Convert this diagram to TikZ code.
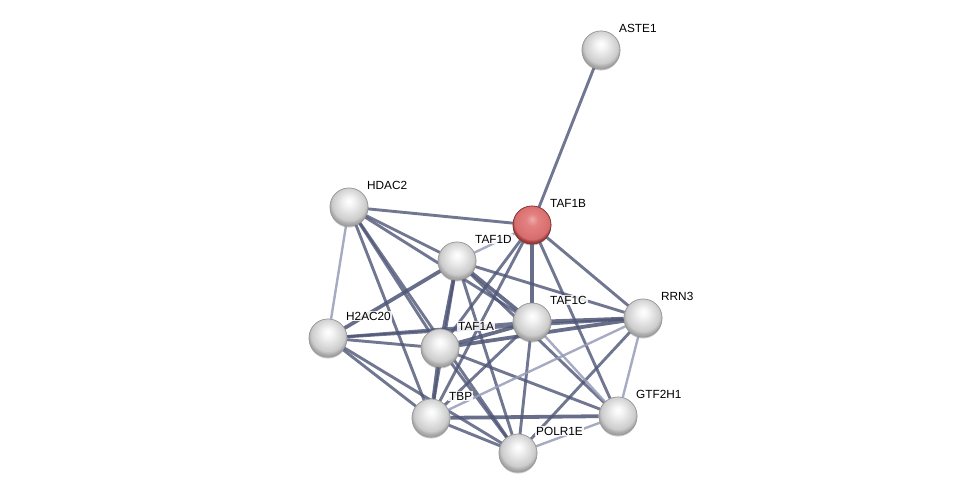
\documentclass[tikz,border=0pt]{standalone}
\usepackage{fontspec}
\setmainfont{Liberation Sans}
\usepackage{tikz}
\usetikzlibrary{positioning, shapes, arrows.meta, calc, shadows}

\definecolor{edgedark}{RGB}{78,85,118}
\definecolor{edgelight}{RGB}{150,156,184}
\definecolor{seedtop}{RGB}{240,170,170}
\definecolor{seedmid}{RGB}{222,118,118}
\definecolor{seedrim}{RGB}{160,60,60}
\pgfdeclareradialshading{greysphere}{\pgfpoint{0bp}{8bp}}{%
  color(0bp)=(white); color(6bp)=(white!96!black); color(14bp)=(white!88!black);
  color(22bp)=(white!80!black); color(26bp)=(white!65!black); color(50bp)=(white!65!black)}
\pgfdeclareradialshading{redsphere}{\pgfpoint{0bp}{8bp}}{%
  color(0bp)=(seedtop); color(8bp)=(seedmid!80!seedtop); color(16bp)=(seedmid);
  color(23bp)=(seedmid!85!seedrim); color(26bp)=(seedrim); color(50bp)=(seedrim)}

\begin{document}
\begin{tikzpicture}[x=1pt, y=-1pt,
    protein/.style={circle, draw=gray!80, line width=0.6pt, minimum size=38pt, inner sep=0pt, shading=greysphere,
                    drop shadow={opacity=0.25, shadow xshift=0pt, shadow yshift=-1.5pt}},
    seed/.style={protein, shading=redsphere, draw=seedrim!80!black},
    lbl/.style={anchor=west, inner sep=1pt, fill=white, fill opacity=0.85, text opacity=1,
                font=\fontsize{11.8}{13}\selectfont},
    thick link/.style={draw=edgedark, line width=3.8pt, opacity=0.85},
    mid link/.style={draw=edgedark, line width=2.9pt, opacity=0.8},
    weak link/.style={draw=edgelight, line width=2.4pt, opacity=0.85}]
                  \useasboundingbox (0,0) rectangle (975,498);

                  % Nodes
                  \node[protein] (ASTE1) at (601,50) {};
                  \node[seed] (TAF1B) at (532,225) {};
                  \node[protein] (HDAC2) at (349,207) {};
                  \node[protein] (TAF1D) at (457,261) {};
                  \node[protein] (TAF1C) at (532,322) {};
                  \node[protein] (RRN3) at (643,318) {};
                  \node[protein] (H2AC20) at (328,338) {};
                  \node[protein] (TAF1A) at (440,348) {};
                  \node[protein] (TBP) at (431,418) {};
                  \node[protein] (GTF2H1) at (618,416) {};
                  \node[protein] (POLR1E) at (518,453) {};

                  % Links
                  \foreach \a/\b in {TAF1B/TAF1C, TAF1D/H2AC20, TAF1D/TAF1A, TAF1D/TAF1C, TAF1A/TAF1C,
                                     TAF1A/RRN3, TAF1A/TBP, TAF1C/RRN3, TBP/GTF2H1}
                  \path[thick link] (\a) -- (\b);
                  \foreach \a/\b in {ASTE1/TAF1B, TAF1B/HDAC2, TAF1B/RRN3, TAF1B/GTF2H1, TAF1B/TAF1A,
                                     TAF1B/TBP, HDAC2/TAF1D, HDAC2/TAF1C, HDAC2/TAF1A, HDAC2/TBP,
                                     HDAC2/POLR1E, TAF1D/TBP, TAF1D/RRN3, TAF1D/GTF2H1, TAF1D/POLR1E,
                                     H2AC20/TAF1A, H2AC20/TAF1C, H2AC20/RRN3, H2AC20/TBP, H2AC20/POLR1E,
                                     TAF1A/POLR1E, TAF1A/GTF2H1, TAF1C/TBP, TAF1C/POLR1E, RRN3/POLR1E,
                                     TBP/POLR1E}
                  \path[mid link] (\a) -- (\b);
                  \foreach \a/\b in {TAF1B/TAF1D, HDAC2/H2AC20, TAF1C/GTF2H1, RRN3/TBP, RRN3/GTF2H1,
                                     POLR1E/GTF2H1}
                  \path[weak link] (\a) -- (\b);

                  % Redraw nodes on top
                  \foreach \n in {ASTE1, HDAC2, TAF1D, TAF1C, RRN3, H2AC20, TAF1A, TBP, GTF2H1, POLR1E}
                  \node[protein] at (\n.center) {};
                  \node[seed] at (TAF1B.center) {};

                  % Labels
                  \foreach \n in {ASTE1, TAF1B, HDAC2, TAF1D, TAF1C, RRN3, H2AC20, TAF1A, TBP, GTF2H1, POLR1E}
                  \node[lbl] (\n-lbl) at ([shift={(17,-22)}]\n.center) {\n};
              \end{tikzpicture}
\end{document}
